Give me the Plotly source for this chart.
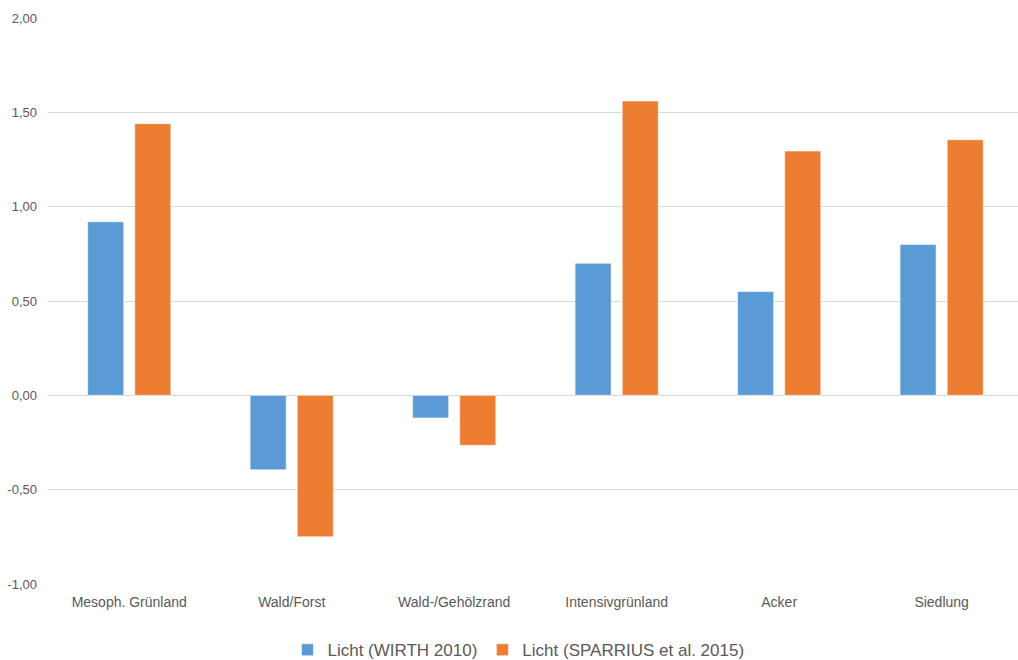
import plotly.graph_objects as go

categories = ["Mesoph. Grünland", "Wald/Forst", "Wald-/Gehölzrand",
              "Intensivgrünland", "Acker", "Siedlung"]
wirth_2010 = [0.92, -0.395, -0.12, 0.70, 0.55, 0.80]
sparrius_2015 = [1.44, -0.75, -0.265, 1.56, 1.295, 1.355]
y_ticks = [-1.0, -0.5, 0.0, 0.5, 1.0, 1.5, 2.0]
y_tick_labels = ["-1,00", "-0,50", "0,00", "0,50", "1,00", "1,50", "2,00"]

fig = go.Figure()
fig.add_bar(x=categories, y=wirth_2010, name="Licht (WIRTH 2010)",
            marker=dict(color="#5B9BD5", line=dict(color="rgba(255,255,255,0.6)", width=1)))
fig.add_bar(x=categories, y=sparrius_2015, name="Licht (SPARRIUS et al. 2015)",
            marker=dict(color="#ED7D31", line=dict(color="rgba(255,255,255,0.6)", width=1)))

fig.update_layout(
    width=1018, height=660,
    margin=dict(l=48, r=0, t=18, b=76, autoexpand=False),
    paper_bgcolor="white", plot_bgcolor="white",
    barmode="group", bargap=0.42, bargroupgap=0.234,
    font=dict(family="Liberation Sans, Arial, sans-serif", color="#595959", size=13),
    showlegend=True,
    legend=dict(orientation="h", x=0.485, xanchor="center", y=-0.117, yanchor="middle",
                font=dict(size=17, color="#595959"), itemwidth=30, traceorder="normal"),
)
fig.update_xaxes(range=[-0.5, 5.47], showgrid=False, showline=False, ticks="",
                 ticklabelstandoff=8,
                 tickfont=dict(size=14, color="#595959"))
fig.update_yaxes(range=[-1.0, 2.0], tickvals=y_ticks, ticktext=y_tick_labels,
                 showgrid=True, gridcolor="#D9D9D9", gridwidth=1,
                 zeroline=True, zerolinecolor="#D9D9D9", zerolinewidth=1,
                 showline=False, ticks="", ticklabelstandoff=10,
                 tickfont=dict(size=13, color="#595959"))

fig.write_html("out.html")
